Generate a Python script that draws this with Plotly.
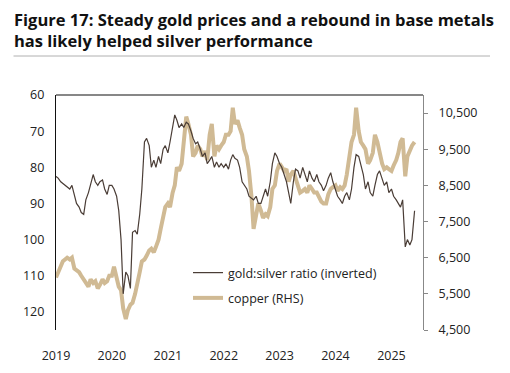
import pandas as pd
import plotly.graph_objects as go

# ---- data (semi-monthly readings) ----
gold_silver_ratio = [
    82.5, 83, 84, 84.5, 85, 85.5, 86, 85, 88, 90, 91, 92.5, 93, 89, 87, 85, 82, 84, 85, 84, 83.5, 86, 87.5, 85,
    85, 86, 88, 92, 100, 115, 109, 110, 113.5, 98, 97.5, 98.5, 93, 86, 73, 72, 74, 80, 78, 80, 77, 79, 75, 74,
    76, 73, 69, 65.5, 67, 69, 68, 69, 67.5, 68, 70, 72, 73.5, 73, 75, 77, 76, 79, 78, 77, 80, 78.5, 80, 79,
    80, 79, 80.5, 78, 76.5, 77.5, 78, 80, 84, 85, 86, 88, 88.5, 89, 88, 90, 90, 88, 86, 88, 84, 79, 76, 77,
    79, 80, 82, 84, 87, 90, 84, 80.5, 81, 83, 80, 82, 84, 81, 83, 84, 82, 84, 85, 86.5, 85, 83, 81.5, 84,
    86, 88, 89, 90, 88, 87, 89, 86, 80, 76.5, 77, 79, 82, 86, 84, 87, 88, 85, 82, 81, 83, 85, 84, 87,
    86, 88, 89, 90, 91, 89, 102, 100, 101.5, 100, 92,
]
copper = [
    5950, 6100, 6250, 6400, 6450, 6500, 6450, 6500, 6200, 6150, 6100, 6000, 5900, 5850, 5700, 5900, 5800, 5850, 5650, 5750, 5900, 5800, 5850, 6000,
    6000, 6250, 6000, 5700, 5600, 5100, 4800, 5050, 5200, 5250, 5500, 5850, 6100, 6400, 6450, 6550, 6700, 6750, 6650, 6800, 7000, 7300, 7600, 7900,
    8000, 7900, 8300, 8500, 9000, 8900, 9100, 9700, 10400, 10200, 9900, 9300, 9400, 9600, 9500, 9300, 9450, 9200, 9900, 10200, 9300, 9600, 9500, 9600,
    9700, 9900, 9900, 10000, 10650, 10200, 10300, 10100, 9900, 9500, 9300, 8900, 8200, 7300, 7700, 8000, 7800, 7600, 7700, 7650, 7900, 8400, 8500, 8900,
    9100, 9000, 8900, 8950, 8600, 8800, 8900, 8700, 8500, 8300, 8350, 8400, 8300, 8500, 8400, 8300, 8300, 8150, 8050, 8000, 8000, 8250, 8400, 8450,
    8500, 8350, 8450, 8400, 8500, 8800, 9300, 9700, 9900, 10650, 10000, 9700, 9600, 9500, 9100, 9200, 9400, 9900, 9700, 9400, 9100, 8950, 9000, 8950,
    8900, 9050, 9200, 9400, 9700, 9800, 8750, 9300, 9500, 9600, 9700,
]
dates = pd.date_range("2019-01-01", periods=len(gold_silver_ratio), freq="SMS")
year_ticks = ["2019", "2020", "2021", "2022", "2023", "2024", "2025"]
ratio_ticks = [60, 70, 80, 90, 100, 110, 120]
copper_ticks = [4500, 5500, 6500, 7500, 8500, 9500, 10500]

title_lines = ["Figure 17: Steady gold prices and a rebound in base metals",
               "has likely helped silver performance"]

# ---- layout geometry (pixels) ----
W, H = 510, 373
L, R, T, B = 56, 423, 95, 330
pw, ph = R - L, B - T
def px(x): return (x - L) / pw
def py(y): return (B - y) / ph

FONT = "Open Sans"
GOLD_C = "#4a3d36"
COPPER_C = "#d0ba94"

fig = go.Figure()
fig.add_trace(go.Scatter(x=dates, y=copper, name="copper (RHS)", mode="lines",
                         line=dict(color=COPPER_C, width=4), yaxis="y",
                         legendgroup="c", legendrank=2))
fig.add_trace(go.Scatter(x=dates, y=gold_silver_ratio, name="gold:silver ratio (inverted)", mode="lines",
                         line=dict(color=GOLD_C, width=1.2), yaxis="y2",
                         legendgroup="g", legendrank=1))

fig.update_layout(
    template="none",
    width=W, height=H,
    margin=dict(l=L, r=W - R, t=T, b=H - B, pad=0),
    paper_bgcolor="white", plot_bgcolor="white",
    font=dict(family=FONT, size=12, color="#222"),
    showlegend=True,
    legend=dict(x=px(188), y=py(258), xanchor="left", yanchor="top",
                traceorder="grouped", tracegroupgap=6, bgcolor="rgba(0,0,0,0)",
                font=dict(family=FONT, size=12.5, color="#222")),
    xaxis=dict(type="date", range=["2019-01-01", "2025-07-26"], automargin=False,
               tickvals=[f"{y}-01-01" for y in year_ticks], ticktext=year_ticks,
               showgrid=False, zeroline=False, showline=False,
               ticks="outside", ticklen=14, tickcolor="rgba(0,0,0,0)",
               tickfont=dict(size=12.5, color="#222")),
    yaxis=dict(side="right", range=[4500, 11000], tickvals=copper_ticks, automargin=False,
               tickformat=",d", showgrid=False, zeroline=False,
               showline=True, linecolor="#888", linewidth=1,
               ticks="outside", ticklen=4, tickcolor="#888",
               ticklabelstandoff=8, tickfont=dict(size=12.5, color="#222")),
    yaxis2=dict(side="left", overlaying="y", range=[125, 60], tickvals=ratio_ticks, automargin=False,
                showgrid=False, zeroline=False,
                showline=True, linecolor="#111", linewidth=1.2,
                ticks="outside", ticklen=8, tickcolor="rgba(0,0,0,0)",
                tickfont=dict(size=12.5, color="#222")),
)

# top border of plot area
fig.add_shape(type="line", xref="paper", yref="paper", x0=0, x1=1, y0=1, y1=1,
              line=dict(color="#111", width=1.2))
# separator under title, drawn as a headless annotation arrow
fig.add_annotation(text="", xref="paper", yref="paper", x=px(490), y=py(56),
                   showarrow=True, arrowhead=0, arrowwidth=1, arrowcolor="#b0b0b0",
                   axref="pixel", ayref="pixel", ax=-478, ay=0,
                   standoff=0, startstandoff=0)

for i, (txt, yc) in enumerate(zip(title_lines, [19, 40])):
    fig.add_annotation(text=f"<b>{txt}</b>", xref="paper", yref="paper",
                       x=px(12), y=py(yc), xanchor="left", yanchor="middle",
                       showarrow=False, font=dict(family=FONT, size=16.5, color="#111"))

fig.write_html("out.html", config={"displayModeBar": False},
               post_script="document.body.style.margin='0';")
